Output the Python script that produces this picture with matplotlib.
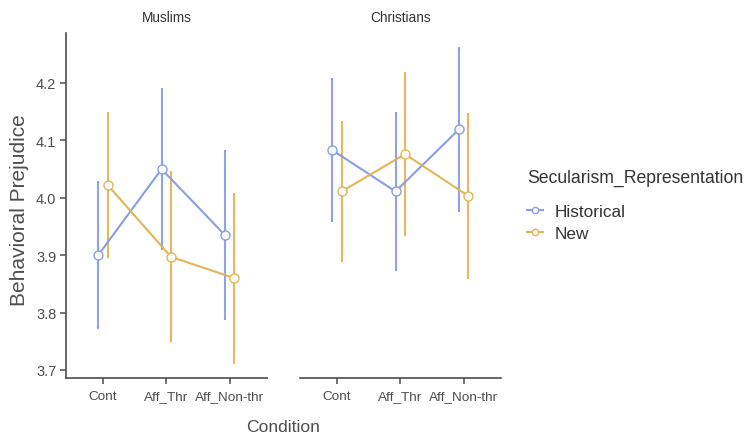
import matplotlib
matplotlib.use('Agg')
import matplotlib.pyplot as plt
import numpy as np

# data
conditions = ['Cont', 'Aff_Thr', 'Aff_Non-thr']
panels = ['Muslims', 'Christians']
groups = ['Historical', 'New']

muslims_hist = [3.900, 4.050, 3.935]
muslims_hist_ci = [0.127, 0.140, 0.147]
muslims_new = [4.022, 3.897, 3.860]
muslims_new_ci = [0.126, 0.147, 0.147]

christians_hist = [4.083, 4.011, 4.119]
christians_hist_ci = [0.123, 0.136, 0.142]
christians_new = [4.011, 4.076, 4.003]
christians_new_ci = [0.121, 0.141, 0.143]

yticks = [3.7, 3.8, 3.9, 4.0, 4.1, 4.2]

colors = {'Historical': '#8499e6', 'New': '#e1b24e'}
axis_col = '#4d4d4d'
text_col = '#4d4d4d'
plt.rcParams['font.family'] = ['Liberation Sans', 'DejaVu Sans']

data = {
    'Muslims': {'Historical': (muslims_hist, muslims_hist_ci),
                'New': (muslims_new, muslims_new_ci)},
    'Christians': {'Historical': (christians_hist, christians_hist_ci),
                   'New': (christians_new, christians_new_ci)},
}

W, H = 746, 439
fig = plt.figure(figsize=(W / 100, H / 100), dpi=100)

dodge = {'Historical': -0.075, 'New': 0.075}
x = np.arange(1, len(conditions) + 1)
handles = []
for i, panel in enumerate(panels):
    left = (66 + 234 * i) / W
    ax = fig.add_axes([left, 1 - 379 / H, 201 / W, 345 / H])
    for g in groups:
        vals, ci = data[panel][g]
        xs = x + dodge[g]
        ax.errorbar(xs, vals, yerr=ci, fmt='none', ecolor=colors[g],
                    elinewidth=1.5, capsize=1, capthick=1.5, alpha=0.9, zorder=2)
        h, = ax.plot(xs, vals, color=colors[g], lw=1.5, marker='o', ms=6.5,
                     mfc='white', mec=colors[g], mew=1.0, alpha=0.95, zorder=3)
        handles.append(h)
    ax.set_xlim(0.416, 3.59)
    ax.set_ylim(3.686, 4.287)
    ax.set_xticks(x)
    ax.set_xticklabels(conditions, fontsize=9.7, color=text_col)
    for s in ['top', 'right']:
        ax.spines[s].set_visible(False)
    ax.spines['bottom'].set_color(axis_col)
    ax.spines['bottom'].set_linewidth(1.2)
    ax.tick_params(axis='x', length=4, width=1.1, color=axis_col, pad=5)
    if i == 0:
        ax.set_yticks(yticks)
        ax.set_yticklabels([f'{v:.1f}' for v in yticks], fontsize=10.5, color=text_col)
        ax.spines['left'].set_color(axis_col)
        ax.spines['left'].set_linewidth(1.2)
        ax.tick_params(axis='y', length=4, width=1.1, color=axis_col, pad=3)
    else:
        ax.spines['left'].set_visible(False)
        ax.set_yticks([])
    ax.set_title(panel, fontsize=9.8, color='#333333', pad=9)
    ax.patch.set_visible(False)

fig.text(283 / W, 1 - 428 / H, 'Condition', ha='center', va='center',
         fontsize=12.6, color=text_col)
fig.text(20 / W, 1 - 210 / H, 'Behavioral Prejudice', ha='center', va='center',
         rotation=90, fontsize=15, color=text_col)

# legend title drawn on its own so the gap to the keys can match
fig.text(527 / W, 1 - 178 / H, 'Secularism_Representation', ha='left', va='center',
         fontsize=12.7, color='#333333')
leg = fig.legend(handles[:2], groups,
                 loc='upper left', bbox_to_anchor=(515 / W, 1 - 193 / H),
                 frameon=False, fontsize=12.4,
                 handlelength=0.9, handletextpad=0.7, labelspacing=0.4,
                 borderpad=0.2, markerscale=0.7)
for t in leg.get_texts():
    t.set_color('#333333')

fig.savefig('out.png', dpi=100)
